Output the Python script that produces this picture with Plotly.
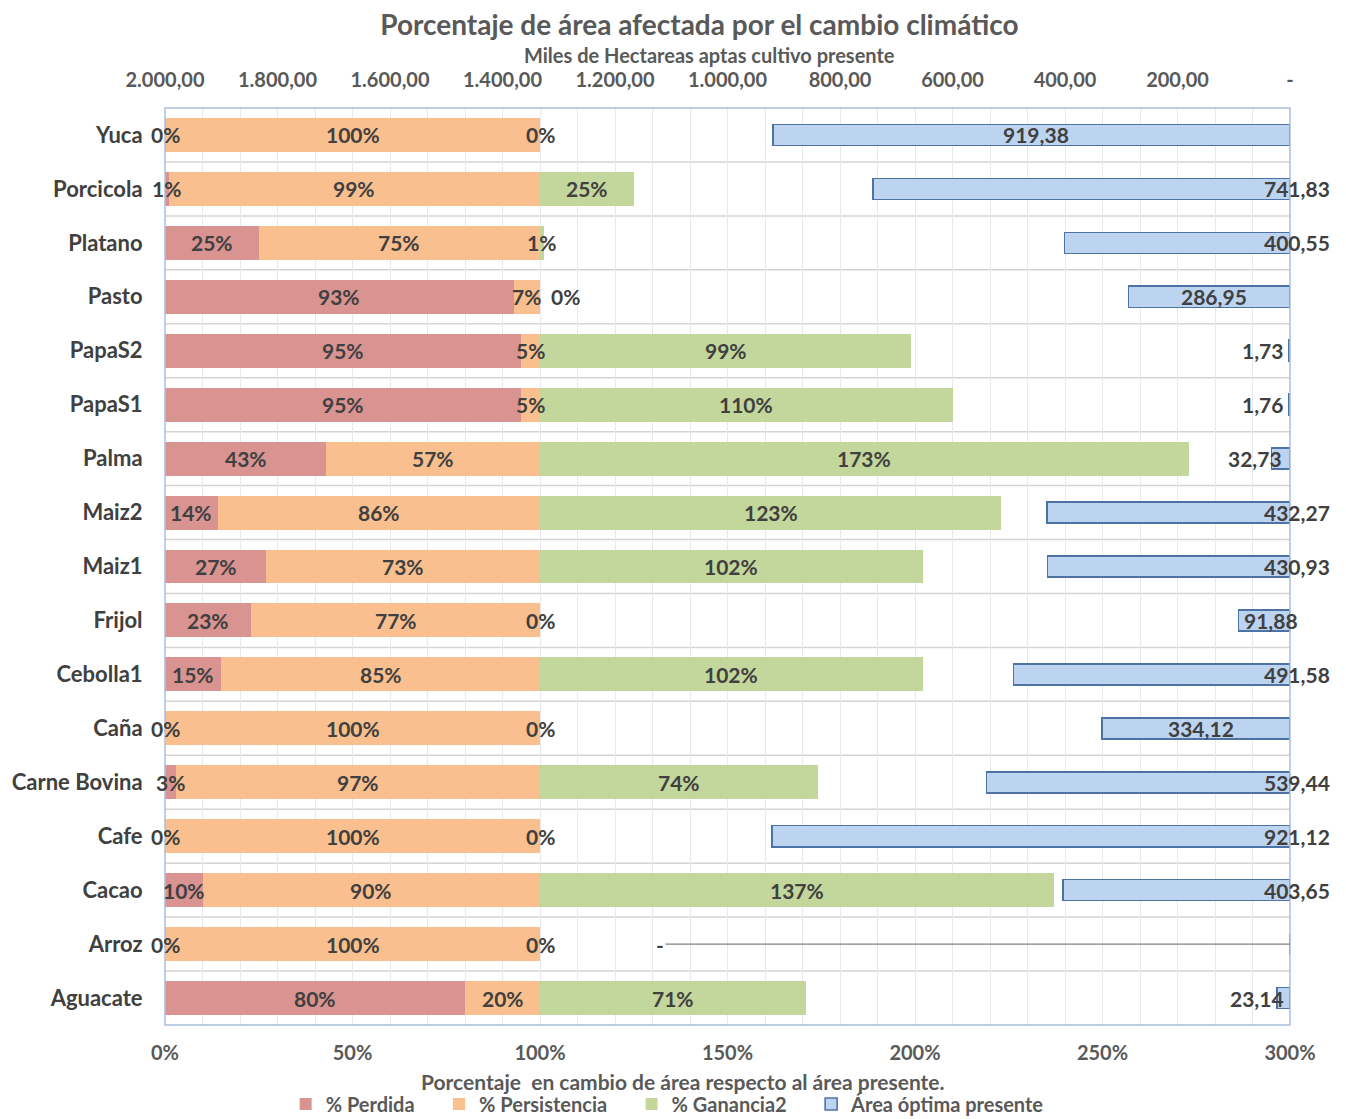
import plotly.graph_objects as go

# ---------------- data ----------------
categories = ["Aguacate", "Arroz", "Cacao", "Cafe", "Carne Bovina", "Caña", "Cebolla1",
              "Frijol", "Maiz1", "Maiz2", "Palma", "PapaS1", "PapaS2", "Pasto",
              "Platano", "Porcicola", "Yuca"]
perdida = [80, 0, 10, 0, 3, 0, 15, 23, 27, 14, 43, 95, 95, 93, 25, 1, 0]
persistencia = [20, 100, 90, 100, 97, 100, 85, 77, 73, 86, 57, 5, 5, 7, 75, 99, 100]
ganancia = [71, 0, 137, 0, 74, 0, 102, 0, 102, 123, 173, 110, 99, 0, 1, 25, 0]
area = [23.14, 0, 403.65, 921.12, 539.44, 334.12, 491.58, 91.88, 430.93, 432.27,
        32.73, 1.76, 1.73, 286.95, 400.55, 741.83, 919.38]

pct_ticks = [0, 50, 100, 150, 200, 250, 300]
pct_ticktext = ["0%", "50%", "100%", "150%", "200%", "250%", "300%"]
area_ticks = [2000, 1800, 1600, 1400, 1200, 1000, 800, 600, 400, 200, 0]
area_ticktext = ["2.000,00", "1.800,00", "1.600,00", "1.400,00", "1.200,00", "1.000,00",
                 "800,00", "600,00", "400,00", "200,00", "-"]
series_names = ["% Perdida", "% Persistencia", "% Ganancia2", "Área óptima presente"]

# ---------------- styles ----------------
FONT = "Lato"
TXT = "#404040"
GREY = "#595959"
C_PERD = "#d99391"
C_PERS = "#f9bf8f"
C_GAN = "#c3d69b"
C_AREA = "#bdd4f1"
C_AREA_LINE = "#4f72a6"
LEGEND_PAD = "\u00a0" * 4  # extra spacing between legend entries

# the page body adds an 8 px margin, so the figure is drawn 8 px smaller
W, H = 1338, 1111

# placement of the area labels: "mid" = centred in bar, (xanchor, xshift) = at the bar end
area_label_style = {
    "Aguacate": ("right", -4), "Arroz": "leader", "Cacao": ("center", 7), "Cafe": ("center", 7),
    "Carne Bovina": ("center", 7), "Caña": "mid", "Cebolla1": ("center", 7),
    "Frijol": ("right", 10), "Maiz1": ("center", 7), "Maiz2": ("center", 7),
    "Palma": ("right", -6), "PapaS1": ("right", -5), "PapaS2": ("right", -5),
    "Pasto": "mid", "Platano": ("center", 7), "Porcicola": ("center", 7), "Yuca": "mid",
}


def fmt_es(v):
    s = f"{v:,.2f}"
    return s.replace(",", "X").replace(".", ",").replace("X", ".")


fig = go.Figure()

fig.add_trace(go.Bar(y=categories, x=perdida, name=series_names[0] + LEGEND_PAD, orientation="h",
                     marker=dict(color=C_PERD, line=dict(width=0)), width=0.63,
                     xaxis="x", yaxis="y"))
fig.add_trace(go.Bar(y=categories, x=persistencia, name=series_names[1] + LEGEND_PAD,
                     orientation="h", marker=dict(color=C_PERS, line=dict(width=0)), width=0.63,
                     xaxis="x", yaxis="y"))
fig.add_trace(go.Bar(y=categories, x=ganancia, name=series_names[2] + LEGEND_PAD, orientation="h",
                     marker=dict(color=C_GAN, line=dict(width=0)), width=0.63,
                     xaxis="x", yaxis="y"))
fig.add_trace(go.Bar(y=categories, x=area, name=series_names[3], orientation="h",
                     marker=dict(color=C_AREA, line=dict(color=C_AREA_LINE, width=1.6)),
                     width=0.39, xaxis="x2", yaxis="y"))

annotations = []
lab_font = dict(family=FONT, size=21, color=TXT, weight="bold")

# stacked segment labels (centred on each segment)
for i, cat in enumerate(categories):
    start = 0
    for series in (perdida, persistencia, ganancia):
        v = series[i]
        shift = 0
        if series is ganancia and v == 0 and persistencia[i] < 50:
            shift = 25
        annotations.append(dict(x=start + v / 2, y=cat, xref="x", yref="y", text=f"{v}%",
                                showarrow=False, font=lab_font, xshift=shift))
        start += v

# area labels
for i, cat in enumerate(categories):
    st = area_label_style[cat]
    v = area[i]
    if st == "leader":
        annotations.append(dict(x=0, y=cat, xref="x2", yref="y", text="-", showarrow=True,
                                arrowhead=0, arrowwidth=1.2, arrowcolor="#808080",
                                ax=-630, ay=0, font=lab_font, standoff=0))
    elif st == "mid":
        annotations.append(dict(x=v / 2, y=cat, xref="x2", yref="y", text=fmt_es(v),
                                showarrow=False, font=lab_font, xshift=5))
    else:
        anchor, shift = st
        annotations.append(dict(x=0, y=cat, xref="x2", yref="y", text=fmt_es(v),
                                showarrow=False, font=lab_font, xanchor=anchor, xshift=shift))

# axis titles
annotations.append(dict(text="Miles de Hectareas aptas cultivo presente", xref="paper", yref="paper",
                        x=0.484, y=1.058, yanchor="middle", showarrow=False,
                        font=dict(family=FONT, size=20, color=GREY, weight="bold")))
annotations.append(dict(text="Porcentaje  en cambio de área respecto al área presente.",
                        xref="paper", yref="paper", x=0.46, y=-0.062, yanchor="middle",
                        showarrow=False,
                        font=dict(family=FONT, size=21, color=GREY, weight="bold")))

# category separator lines and plot border
shapes = []
for k in range(len(categories) - 1):
    shapes.append(dict(type="line", xref="paper", yref="y", x0=0, x1=1, y0=k + 0.5, y1=k + 0.5,
                       line=dict(color="#d4d4d8", width=1.5), layer="below"))
shapes.append(dict(type="rect", xref="paper", yref="paper", x0=0, x1=1, y0=0, y1=1,
                   line=dict(color="#a9bfdc", width=1.5)))

fig.update_layout(
    width=W, height=H,
    margin=dict(l=157, r=56, t=100, b=94, autoexpand=False),
    paper_bgcolor="white", plot_bgcolor="white",
    barmode="stack", bargap=0.37,
    font=dict(family=FONT, color=TXT),
    title=dict(text="Porcentaje de área afectada por el cambio climático",
               x=0.475, xref="paper", xanchor="center", y=1 - 17 / H, yref="container",
               yanchor="middle", font=dict(family=FONT, size=28, color=GREY, weight="bold")),
    xaxis=dict(range=[0, 300], tickmode="array", tickvals=pct_ticks, ticktext=pct_ticktext,
               showgrid=False, automargin=False,
               minor=dict(dtick=10, showgrid=True, gridcolor="#e8e8ee", gridwidth=1),
               zeroline=False, showline=False, ticks="outside", ticklen=10,
               tickcolor="rgba(0,0,0,0)",
               tickfont=dict(family=FONT, size=20, color=GREY, weight="bold"),
               fixedrange=True),
    xaxis2=dict(range=[2000, 0], overlaying="x", side="top", tickmode="array",
                tickvals=area_ticks, ticktext=area_ticktext, showgrid=False, automargin=False,
                zeroline=False, showline=False,
                ticks="outside", ticklen=12, tickcolor="rgba(0,0,0,0)",
                tickfont=dict(family=FONT, size=20, color=GREY, weight="bold"),
                fixedrange=True),
    yaxis=dict(categoryorder="array", categoryarray=categories, showgrid=False,
               automargin=False, zeroline=False, showline=False, ticks="outside", ticklen=17,
               tickcolor="rgba(0,0,0,0)",
               tickfont=dict(family=FONT, size=22, color=TXT, weight="bold"),
               range=[-0.5, len(categories) - 0.5]),
    legend=dict(orientation="h", x=0.493, xref="container", xanchor="center",
                y=1 - 1096 / H, yref="container", yanchor="middle",
                font=dict(family=FONT, size=20, color=GREY, weight="bold"),
                itemwidth=30, tracegroupgap=0, traceorder="normal"),
    annotations=annotations,
    shapes=shapes,
    showlegend=True,
)

fig.write_html("out.html")
